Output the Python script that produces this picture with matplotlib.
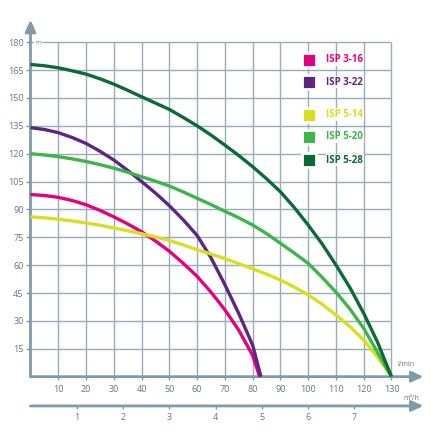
import matplotlib
matplotlib.use("Agg")
from matplotlib import pyplot as plt

plt.rcParams['font.family'] = ['Open Sans', 'DejaVu Sans']

# pump curves: flow [l/min] and head [m]
flow_3_16 = [0, 5, 10, 15, 20, 25, 30, 35, 40, 45, 50, 55, 60, 65, 70, 75, 80, 82.5]
head_3_16 = [98, 97.5, 96.5, 94.8, 92.5, 89.5, 86, 82.2, 78, 73, 67.5, 61, 54, 45.5, 36, 25, 11.5, 0]

flow_3_22 = [0, 5, 10, 15, 20, 25, 30, 35, 40, 45, 50, 55, 60, 65, 70, 75, 80, 83]
head_3_22 = [134, 133, 131.3, 128.7, 125.5, 121.3, 116.6, 111, 105, 98.8, 92, 84.4, 76, 64, 49.5, 34, 17, 0]

flow_5 = [0, 5, 10, 15, 20, 25, 30, 35, 40, 45, 50, 55, 60, 65, 70, 75, 80, 85, 90, 95, 100,
          105, 110, 115, 120, 125, 130]
head_5_14 = [86, 85.5, 84.7, 83.8, 82.7, 81.5, 80, 78.5, 76.9, 75.2, 73.3, 70.9, 68.3, 66, 63.5,
             60.8, 58, 55.2, 52, 48.2, 44, 39, 33.2, 27, 19.7, 10.5, 0]
head_5_20 = [120, 119.3, 118.4, 117.2, 115.8, 114.1, 112.2, 110, 107.6, 105.2, 102.6, 99.4, 96,
             92.6, 89, 85.5, 81.6, 77, 71.8, 66.5, 61, 53.5, 45.5, 36.5, 26, 13, 0]
head_5_28 = [168, 167.3, 166.2, 164.6, 162.8, 160.3, 157.4, 154.1, 150.6, 147.2, 143.8, 139.5,
             135, 130, 124.6, 119, 113, 106.5, 99.5, 91, 81.6, 71.5, 60.1, 48, 34.1, 18.5, 0]

names = ["ISP 3-16", "ISP 3-22", "ISP 5-14", "ISP 5-20", "ISP 5-28"]
colors = ["#e5007d", "#5b2784", "#d8df1f", "#3cb54a", "#0b6a37"]

x_ticks = list(range(10, 131, 10))
y_ticks = list(range(15, 181, 15))
m3h_ticks = [1, 2, 3, 4, 5, 6, 7]

axis_col = "#7f9aab"
grid_col = "#97adbb"
text_col = "#5d7889"

fig = plt.figure(figsize=(4.4, 4.4), dpi=100)
ax = fig.add_axes([0.0693, 0.1439, 0.893, 0.811])
ax.set_xlim(0, 141.5)
ax.set_ylim(0, 192)
for s in ax.spines.values():
    s.set_visible(False)

# grid
ax.vlines(x_ticks, 0, 180, color=grid_col, lw=1.0, zorder=1)
ax.hlines(y_ticks, 0, 130, color=grid_col, lw=1.0, zorder=1)

# axes with arrows
arr = dict(arrowstyle='-|>,head_length=0.7,head_width=0.32', color=axis_col,
           lw=2.0, shrinkA=0, shrinkB=0, mutation_scale=10)
ax.annotate("", xy=(0, 192), xytext=(0, 0), arrowprops=arr, annotation_clip=False)
ax.annotate("", xy=(141.5, 0), xytext=(0, 0), arrowprops=arr, annotation_clip=False)
ax.annotate("", xy=(141.5, -0.082), xytext=(0, -0.082), xycoords=('data', 'axes fraction'),
            textcoords=('data', 'axes fraction'), arrowprops=arr, annotation_clip=False)

ax.set_xticks(x_ticks)
ax.set_yticks(y_ticks)
ax.tick_params(axis='y', direction='out', length=3, width=1, color=axis_col,
               labelcolor=text_col, labelsize=6.5, pad=2)
ax.tick_params(axis='x', direction='out', length=2, width=1, color=axis_col,
               labelcolor=text_col, labelsize=6.5, pad=4)

secax = ax.secondary_xaxis(-0.082, functions=(lambda q: q * 60 / 1000, lambda m: m * 1000 / 60))
secax.set_xticks(m3h_ticks)
secax.spines['bottom'].set_visible(False)
secax.tick_params(direction='out', length=2, width=1, color=axis_col,
                  labelcolor=text_col, labelsize=6.5, pad=3)

# unit labels
ax.text(2.7, 180, "m", fontsize=4.5, color=text_col, ha='center', va='center',
        bbox=dict(facecolor='white', edgecolor='none', pad=0.8), zorder=3)
ax.text(135.2, 6.3, "l/min", fontsize=5, color=text_col, ha='center', va='center')
ax.text(137, -0.0625, "m³/h", fontsize=5, color=text_col, ha='center', va='center',
        transform=ax.get_xaxis_transform())

# curves
series = [(flow_3_16, head_3_16), (flow_3_22, head_3_22), (flow_5, head_5_14),
          (flow_5, head_5_20), (flow_5, head_5_28)]
for (fx, hy), c in zip(series, colors):
    ax.plot(fx, hy, color=c, lw=2.4, zorder=4, clip_on=False, solid_capstyle='butt',
            solid_joinstyle='round')

# legend
legend_y = [170.5, 158.5, 141, 129, 116.5]
for name, c, ly in zip(names, colors, legend_y):
    ax.scatter([100.4], [ly], marker='s', s=100, color=c, edgecolor='white',
               linewidth=2, zorder=5)
    ax.text(106.5, ly, name, color=c, fontsize=7, fontweight='bold', va='center',
            ha='left', zorder=5, bbox=dict(facecolor='white', edgecolor='none', pad=0.5))

fig.savefig("out.png", dpi=100)
